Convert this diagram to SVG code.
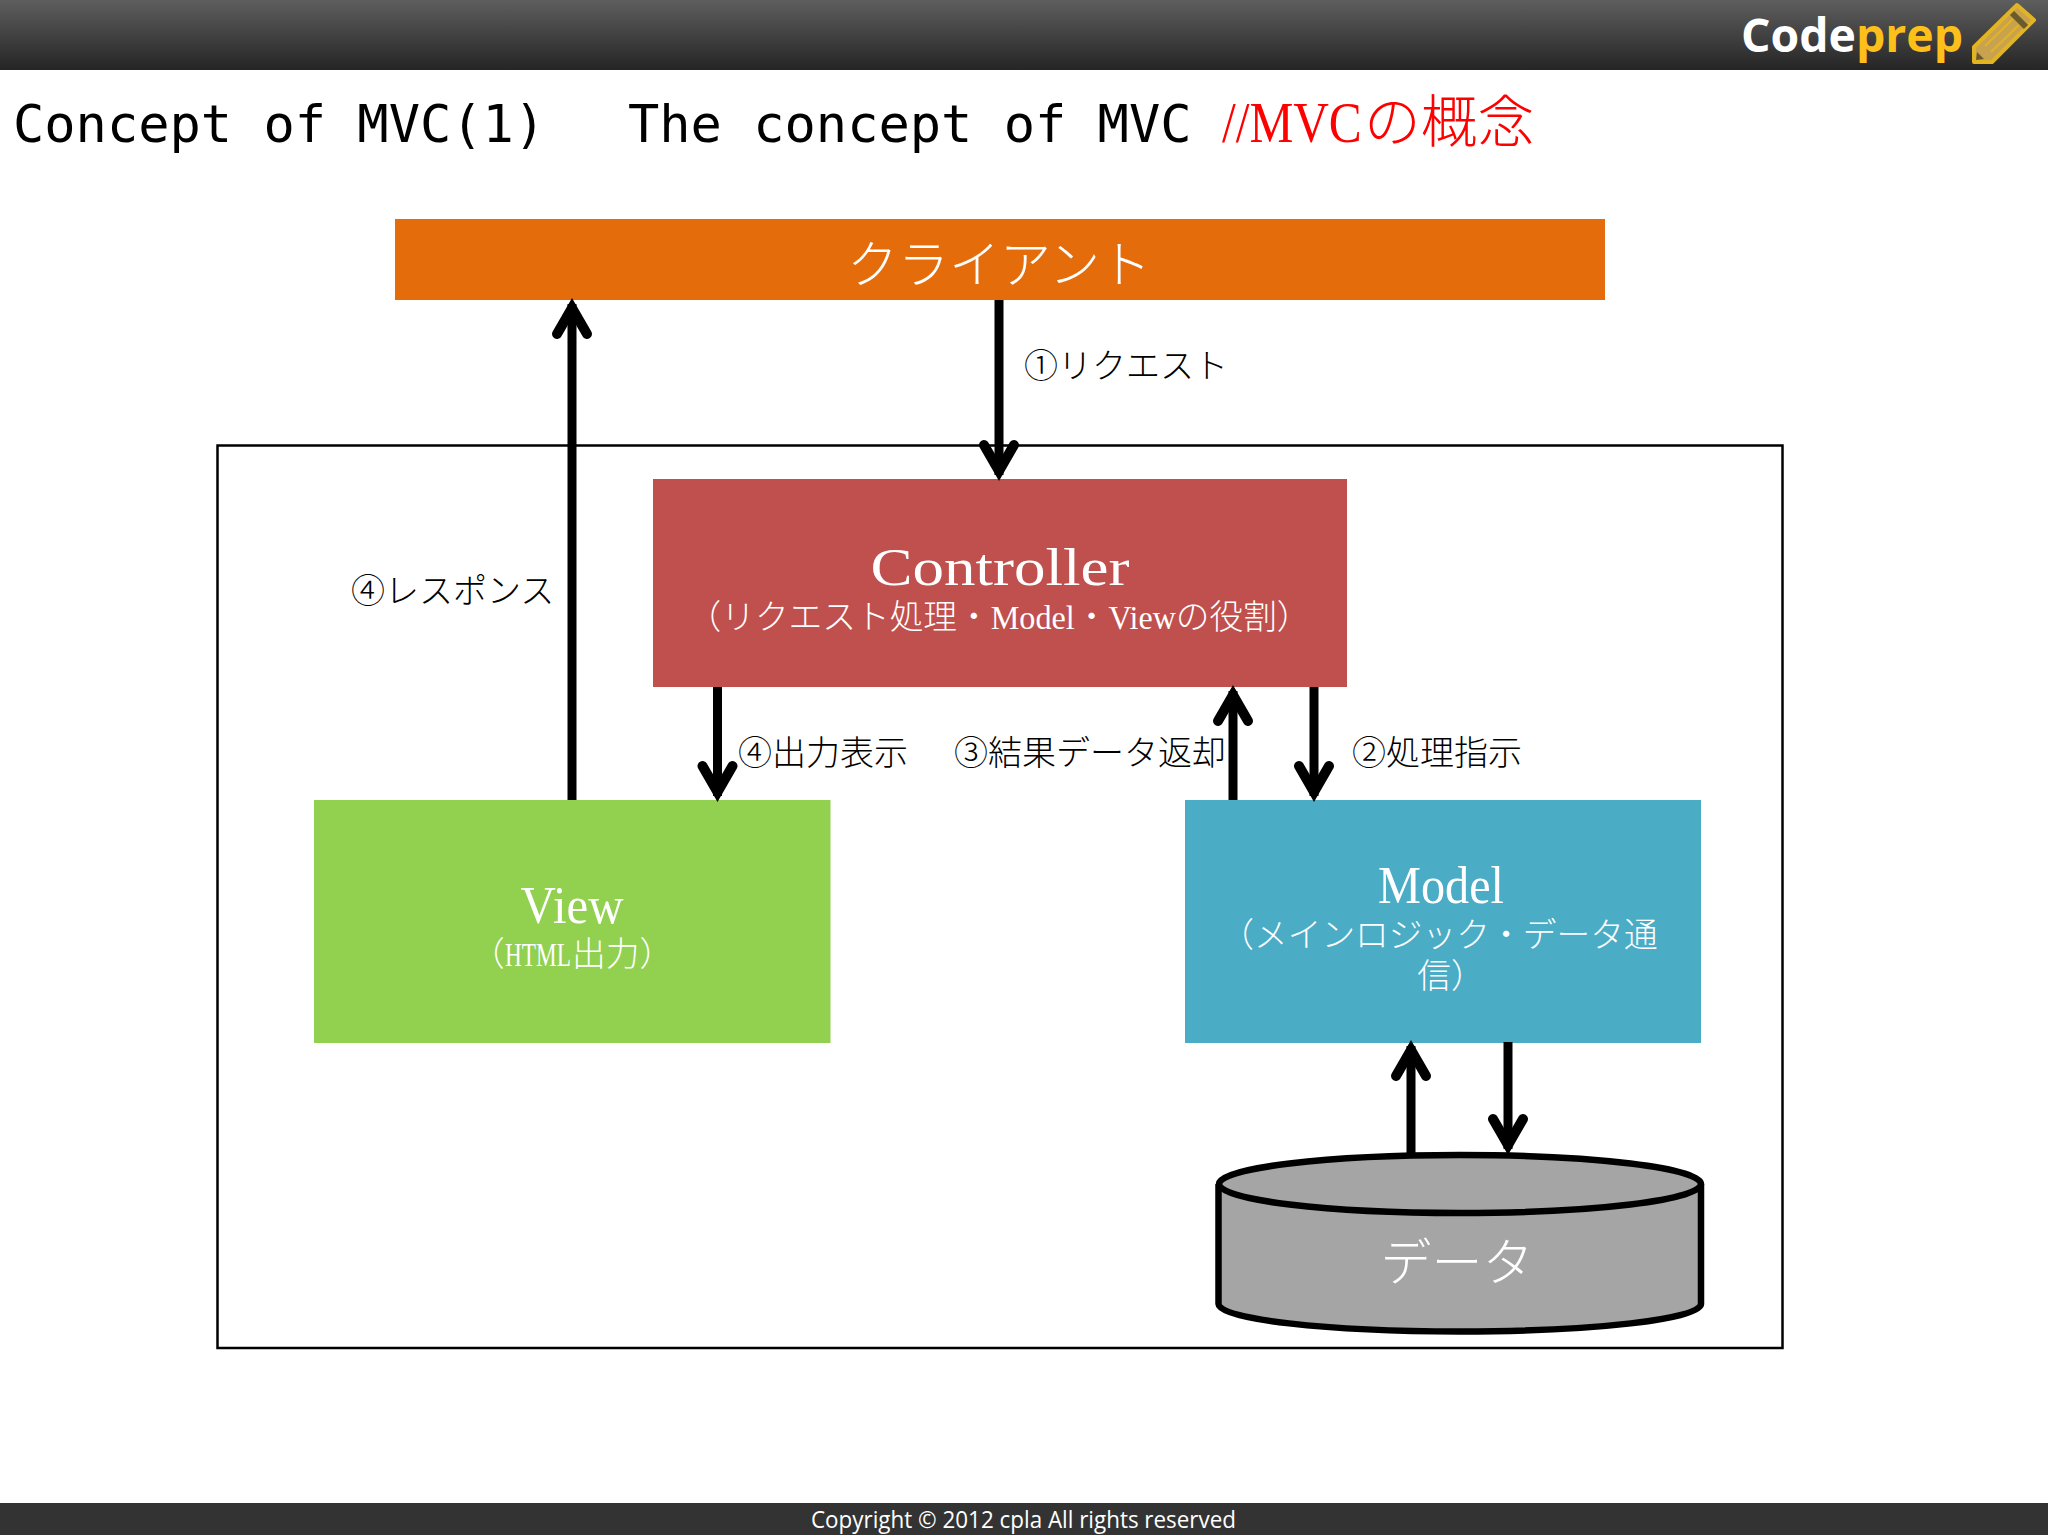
<svg xmlns="http://www.w3.org/2000/svg" width="2048" height="1536" viewBox="0 0 2048 1536">
<style>
.j{font-family:"Liberation Serif","Noto Sans CJK JP",serif;font-weight:300}
.w{fill:#fff}
.big{font-size:51px}
.sub{font-size:33.7px}
.lab{font-size:34px;fill:#000}
.c{text-anchor:middle}
.arrow{fill:none;stroke:#000;stroke-width:9;marker-end:url(#head)}
.mono{font-family:"DejaVu Sans Mono",monospace;font-size:52px;fill:#000}
.red{font-size:56.7px;fill:#f00}
</style>
<defs>
<linearGradient id="hdr" x1="0" y1="0" x2="0" y2="1"><stop offset="0" stop-color="#5e5e5e"/><stop offset="1" stop-color="#252525"/></linearGradient>
<marker id="head" markerUnits="userSpaceOnUse" markerWidth="50" markerHeight="50" viewBox="-40 -25 50 50" refX="0" refY="0" orient="auto" overflow="visible"><path d="M-30,-15 L-4,0 L-30,15" fill="none" stroke="#000" stroke-width="10" stroke-linecap="round" stroke-linejoin="miter" stroke-miterlimit="5"/></marker>
</defs>
<rect width="2048" height="1536" fill="#fff"/>
<g id="header">
<rect width="2048" height="70" fill="url(#hdr)"/>
<text x="1741" y="52" font-family="'Open Sans',sans-serif" font-weight="700" font-size="47" fill="#fff" textLength="222" lengthAdjust="spacingAndGlyphs">Code<tspan fill="#fdc01a">prep</tspan></text>
<g id="pencil"><path d="M1974,47 L2017,5 L2034,20 L1992,62 L1974,62 Z" fill="#c9a24f" stroke="#e3b422" stroke-width="4" stroke-linejoin="round"/><path d="M2012,13 L2026,27" stroke="#6b5a2a" stroke-width="6" fill="none"/><path d="M1985,46 L2013,19 M1991,52 L2019,25" stroke="#e3b422" stroke-width="2" fill="none"/><path d="M1976,60 L1977,52 L1984,59 Z" fill="#6b5a2a"/></g>
</g>
<g id="title">
<text x="13" y="142" class="mono">Concept of MVC(1)</text>
<text x="628" y="142" class="mono">The concept of MVC</text>
<text transform="translate(1222,142) scale(0.87,1)" class="j red">//MVC</text>
<text x="1364" y="142" class="j red">の概念</text>
</g>
<rect id="frame" x="217.500" y="445.500" width="1565" height="902.500" fill="none" stroke="#000" stroke-width="2.500"/>
<g id="client"><rect x="395" y="219" width="1210" height="81" fill="#e46c0a"/><text x="999" y="283" class="j w big c">クライアント</text></g>
<g id="controller"><rect x="653" y="479" width="694" height="208" fill="#c0504d"/><text x="1000" y="585" class="j w c" font-size="52" textLength="259" lengthAdjust="spacingAndGlyphs">Controller</text><text x="687.500" y="629" class="j w sub">（リクエスト処理・<tspan textLength="84" lengthAdjust="spacingAndGlyphs">Model</tspan>・<tspan textLength="67.400" lengthAdjust="spacingAndGlyphs">View</tspan>の役割）</text></g>
<g id="view"><rect x="314" y="800" width="516.500" height="243" fill="#92d050"/><text x="572" y="923" class="j w c" font-size="52" textLength="103" lengthAdjust="spacingAndGlyphs">View</text><text x="471" y="966" class="j w sub">（</text><text transform="translate(505,966) scale(0.69,1)" class="j w sub">HTML</text><text x="572" y="966" class="j w sub">出力）</text></g>
<g id="model"><rect x="1185" y="800" width="516" height="243" fill="#4bacc6"/><text x="1441" y="903" class="j w c" font-size="52" textLength="126" lengthAdjust="spacingAndGlyphs">Model</text><text x="1439" y="947" class="j w sub c">（メインロジック・データ通</text><text x="1451" y="988" class="j w sub c">信）</text></g>
<g id="data"><path d="M1218.500,1184 V1304 C1218.500,1319 1326,1331.500 1460,1331.500 C1594,1331.500 1701,1319 1701,1304 V1184" fill="#a5a5a5" stroke="#000" stroke-width="6.500" stroke-linejoin="round"/><ellipse cx="1460" cy="1184" rx="241" ry="29" fill="#a5a5a5" stroke="#000" stroke-width="6.500"/><text x="1457" y="1281" class="j w big c">データ</text></g>
<g id="connectors">
<line class="arrow" x1="572" y1="800" x2="572" y2="304"/>
<line class="arrow" x1="999" y1="300" x2="999" y2="475"/>
<line class="arrow" x1="717.500" y1="687" x2="717.500" y2="796"/>
<line class="arrow" x1="1233" y1="800" x2="1233" y2="691"/>
<line class="arrow" x1="1314" y1="687" x2="1314" y2="796"/>
<line class="arrow" x1="1411" y1="1153" x2="1411" y2="1046"/>
<line class="arrow" x1="1508" y1="1042" x2="1508" y2="1149"/>
</g>
<g id="labels">
<text x="1024" y="378" class="j lab">①リクエスト</text>
<text x="351" y="603" class="j lab">④レスポンス</text>
<text x="738" y="765" class="j lab">④出力表示</text>
<text x="954" y="765" class="j lab">③結果データ返却</text>
<text x="1352" y="765" class="j lab">②処理指示</text>
</g>
<g id="footer"><rect y="1503" width="2048" height="32" fill="#333"/><text x="811" y="1528" font-family="'Open Sans',sans-serif" font-size="24" fill="#fff" textLength="425" lengthAdjust="spacingAndGlyphs">Copyright © 2012 cpla All rights reserved</text></g>
</svg>
